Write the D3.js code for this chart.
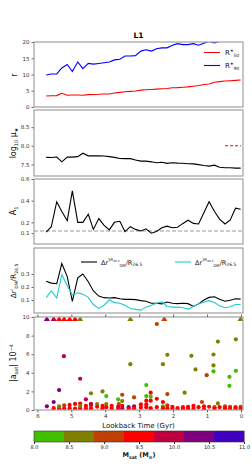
<!doctype html>
<html>
<head>
<script src="https://d3js.org/d3.v7.min.js"></script>
<style>
body{margin:0;background:#fff;}
text{font-family:"DejaVu Sans",sans-serif;}
</style>
</head>
<body>
<svg width="252" height="473" id="chart"></svg>
<script>
// lookback time of each snapshot (Gyr)
var lookback = [5.74,5.59,5.43,5.28,5.12,4.97,4.81,4.66,4.50,4.35,4.19,4.04,3.88,3.73,3.57,3.42,3.26,3.11,2.95,2.80,
                2.64,2.49,2.33,2.18,2.02,1.87,1.71,1.56,1.40,1.25,1.09,0.94,0.78,0.63,0.47,0.32,0.16,0.01];

var r50 = [3.4,3.45,3.5,4.2,3.6,3.7,3.7,3.6,3.8,3.85,3.9,4.0,4.0,4.3,4.5,4.7,4.8,4.9,5.2,5.3,
           5.4,5.5,5.6,5.7,5.9,5.95,6.1,6.2,6.4,6.6,6.9,7.1,7.6,7.8,8.0,8.1,8.2,8.3];
var r90 = [9.85,10.15,10.2,12.0,13.1,10.9,13.85,11.8,13.4,13.2,13.4,13.6,13.85,14.5,14.7,15.7,15.7,15.8,17.2,17.6,
           17.2,17.95,18.2,18.2,19.0,19.5,19.2,19.2,19.5,19.0,19.6,20.2,19.7,20.2,20.8,21.0,21.3,21.5];

var logMu = [7.69,7.685,7.70,7.57,7.70,7.695,7.71,7.80,7.73,7.73,7.73,7.725,7.71,7.69,7.66,7.655,7.655,7.62,7.59,7.59,
             7.57,7.545,7.56,7.53,7.545,7.535,7.53,7.52,7.515,7.495,7.47,7.455,7.48,7.425,7.41,7.41,7.40,7.40];
var hostMuTime = [0.47, 0.0];
var hostMu = [8.0, 8.0];

var a1 = [0.11,0.16,0.39,0.30,0.215,0.49,0.20,0.20,0.275,0.135,0.235,0.175,0.13,0.20,0.21,0.115,0.16,0.135,0.12,0.14,
          0.10,0.115,0.15,0.165,0.15,0.155,0.19,0.22,0.19,0.185,0.29,0.39,0.30,0.23,0.185,0.22,0.33,0.32];
var a1Ref = 0.12;

var dr5 = [0.245,0.23,0.225,0.38,0.28,0.09,0.27,0.30,0.24,0.17,0.13,0.118,0.115,0.118,0.11,0.105,0.105,0.103,0.095,0.09,
           0.075,0.075,0.07,0.085,0.075,0.072,0.075,0.072,0.05,0.07,0.10,0.12,0.125,0.105,0.09,0.098,0.11,0.107];
var dr3 = [0.118,0.17,0.115,0.295,0.21,0.14,0.155,0.145,0.12,0.065,0.035,0.06,0.10,0.08,0.075,0.06,0.035,0.028,0.022,0.045,
           0.06,0.075,0.085,0.05,0.045,0.045,0.04,0.03,0.05,0.07,0.085,0.095,0.08,0.055,0.04,0.048,0.065,0.065];

// satellites: lookback time, |a_sat| (1e-4), log stellar mass
var satTime = [5.22,3.26,2.30,2.17,1.46,1.34,0.81,0.81,0.68,0.15,2.48,0.81,1.01,0.34,0.15,0.34,4.74,5.36,5.52,5.72,
               4.57,4.42,4.08,3.97,3.62,3.50,3.50,3.15,2.79,2.79,2.66,2.66,2.48,2.30,2.17,1.66,1.15,0.68,2.30,4.24,
               3.97,3.60,5.52,5.36,5.36,5.21,5.21,5.05,5.05,4.89,4.89,4.74,4.74,4.74,4.57,4.57,4.42,4.42,4.42,4.24,
               4.08,4.08,3.97,3.81,3.81,3.62,3.62,3.50,3.50,3.31,3.31,3.15,3.15,2.95,2.95,2.79,2.79,2.79,2.66,2.66,
               2.48,2.30,2.17,2.17,2.02,2.02,1.87,1.71,1.71,1.56,1.56,1.40,1.40,1.25,1.09,1.09,0.94,0.78,0.78,0.63,
               0.47,0.47,0.32,0.32,0.16,0.16,0.01,0.01];
var satAcc = [5.79,4.93,4.93,5.93,5.82,4.36,5.97,4.79,7.36,7.60,9.25,4.15,3.75,3.57,4.21,2.60,3.36,2.14,0.86,0.40,
              1.15,1.79,2.00,1.50,1.15,0.96,1.64,1.36,2.68,1.50,1.86,1.43,1.21,0.86,1.71,1.86,0.86,0.71,0.40,0.64,
              0.64,0.64,0.20,0.20,0.40,0.50,0.15,0.55,0.20,0.65,0.15,0.70,0.20,0.45,0.45,0.15,0.55,0.20,0.65,0.35,
              0.45,0.20,0.30,0.20,0.45,0.35,0.15,0.45,0.20,0.30,0.15,0.40,0.20,0.60,0.25,1.00,0.60,0.30,1.00,0.20,
              0.30,0.20,0.50,0.20,0.35,0.15,0.20,0.30,0.10,0.35,0.15,0.45,0.15,0.30,0.40,0.10,0.35,0.30,0.15,0.30,
              0.40,0.20,0.35,0.15,0.30,0.10,0.35,0.15];
var satMass = [9.9,8.6,8.6,8.6,8.6,8.6,8.6,8.6,8.6,8.6,9.1,8.2,9.1,8.2,8.2,8.2,9.9,10.3,10.3,10.3,
               9.9,8.6,8.6,8.2,8.2,8.6,9.1,9.1,8.2,8.2,9.5,8.2,9.5,9.5,9.1,8.6,9.1,8.6,8.2,8.6,
               8.6,9.1,9.5,9.5,8.6,9.1,9.5,9.5,9.5,9.5,9.5,9.5,9.5,8.6,9.5,9.5,9.5,9.5,9.9,9.5,
               9.5,9.5,9.5,9.5,9.5,9.9,9.5,9.5,9.9,10.3,9.5,10.3,9.5,9.5,9.5,9.5,9.5,9.5,9.5,9.5,
               9.5,9.5,9.1,9.5,9.5,9.5,9.5,9.5,9.5,9.5,9.5,9.5,9.5,9.5,9.5,9.5,9.5,9.1,9.5,9.5,
               9.1,9.5,9.1,9.5,9.5,9.5,9.1,9.5];
// satellites above the plotted range (drawn as triangles at the top)
var capTime = [5.72,5.52,5.36,5.21,5.05,4.89,4.74,3.26,2.26,0.01];
var capMass = [10.3,9.9,9.5,9.5,9.5,9.5,8.6,8.6,9.1,8.6];

var massColors = ["#40bf00","#808000","#bf4000","#ff0000","#bf0040","#800080","#4000bf"];
var massTicks = [8.0,8.5,9.0,9.5,10.0,10.5,11.0];
var timeTicks = [6,5,4,3,2,1,0];

var svg = d3.select("#chart");
var left = 34, right = 243;
var x = d3.scaleLinear().domain([6.1, -0.06]).range([left, right]);
var color = d3.scaleQuantize().domain([8, 11]).range(massColors);

svg.append("rect").attr("width", 252).attr("height", 473).attr("fill", "#fff");

// one panel per quantity
function panel(id, top, bottom, domain, ticks, fmt) {
  var y = d3.scaleLinear().domain(domain).range([bottom, top]);
  svg.append("clipPath").attr("id", id)
    .append("rect").attr("x", left).attr("y", top).attr("width", right - left).attr("height", bottom - top);
  var g = svg.append("g");
  var ax = g.append("g").attr("transform", "translate(" + left + ",0)")
    .call(d3.axisLeft(y).tickValues(ticks).tickFormat(fmt).tickSize(2.5).tickPadding(2));
  ax.select(".domain").remove();
  ax.selectAll("line").attr("stroke", "#666");
  ax.selectAll("text").attr("fill", "#333").style("font-size", "5.5px").style("font-family", "DejaVu Sans");
  var plot = g.append("g").attr("clip-path", "url(#" + id + ")");
  g.append("rect").attr("x", left).attr("y", top).attr("width", right - left).attr("height", bottom - top)
    .attr("fill", "none").attr("stroke", "#a0a0a0").attr("stroke-width", 1.2);
  return {g: g, plot: plot, y: y};
}

function drawLine(p, xs, ys, col, dash) {
  var line = d3.line().x(function(d, i) { return x(xs[i]); }).y(function(d) { return p.y(d); });
  p.plot.append("path").datum(ys).attr("d", line)
    .attr("fill", "none").attr("stroke", col).attr("stroke-width", 1.1)
    .attr("stroke-dasharray", dash || null);
}

// rich label: parts = [text, dy, size]
function richText(parent, xx, yy, parts, opts) {
  opts = opts || {};
  var t = parent.append("text").attr("x", xx).attr("y", yy)
    .attr("text-anchor", opts.anchor || "start").attr("fill", "#111");
  if (opts.rotate) t.attr("transform", "rotate(-90," + xx + "," + yy + ")");
  if (opts.bold) t.attr("font-weight", "bold");
  parts.forEach(function(pt) {
    t.append("tspan").attr("dy", pt[1]).style("font-size", pt[2] + "px").text(pt[0]);
  });
  return t;
}

// title
svg.append("text").attr("x", 138.5).attr("y", 38).attr("text-anchor", "middle")
  .attr("font-weight", "bold").style("font-size", "7.5px").text("L1");

// panel 1: radii
var p1 = panel("c1", 42, 107, [0, 20], [0, 5, 10, 15, 20], d3.format("d"));
drawLine(p1, lookback, r50, "#ff0000");
drawLine(p1, lookback, r90, "#0000ff");
p1.g.append("line").attr("x1", 204).attr("x2", 220).attr("y1", 52.5).attr("y2", 52.5).attr("stroke", "#ff0000").attr("stroke-width", 1.1);
p1.g.append("line").attr("x1", 204).attr("x2", 220).attr("y1", 65.5).attr("y2", 65.5).attr("stroke", "#0000ff").attr("stroke-width", 1.1);
richText(p1.g, 225, 55, [["R", 0, 7], ["\u2605", -3.5, 4], ["50", 5.5, 4.5]]);
richText(p1.g, 225, 68, [["R", 0, 7], ["\u2605", -3.5, 4], ["90", 5.5, 4.5]]);
richText(svg, 17, 75, [["r", 0, 8]], {anchor: "middle", rotate: true});

// panel 2: surface density
var p2 = panel("c2", 110, 176, [7.19, 8.96], [7.5, 8.0, 8.5], d3.format(".1f"));
drawLine(p2, lookback, logMu, "#000");
drawLine(p2, hostMuTime, hostMu, "#ff0000", "3,2");
richText(svg, 16, 143, [["log", 0, 8], ["10", 2, 5], [" \u03bc", -2, 8], ["\u2605", 2, 5]], {anchor: "middle", rotate: true});

// panel 3: lopsidedness
var p3 = panel("c3", 179, 244, [0, 0.6], [0.1, 0.2, 0.4, 0.6], d3.format(".1f"));
p3.plot.append("line").attr("x1", left).attr("x2", right).attr("y1", p3.y(a1Ref)).attr("y2", p3.y(a1Ref))
  .attr("stroke", "#999").attr("stroke-width", 1.1).attr("stroke-dasharray", "4,2");
drawLine(p3, lookback, a1, "#000");
richText(svg, 16, 211, [["A", 0, 8], ["1", 2, 5]], {anchor: "middle", rotate: true});

// panel 4: halo offsets
var p4 = panel("c4", 248, 313, [0, 0.5], [0.1, 0.2, 0.3], d3.format(".1f"));
drawLine(p4, lookback, dr5, "#000");
drawLine(p4, lookback, dr3, "#1ccccc");
p4.g.append("line").attr("x1", 81).attr("x2", 97).attr("y1", 262).attr("y2", 262).attr("stroke", "#000").attr("stroke-width", 1.1);
p4.g.append("line").attr("x1", 175).attr("x2", 191).attr("y1", 262).attr("y2", 262).attr("stroke", "#1ccccc").attr("stroke-width", 1.1);
richText(p4.g, 101, 264.5, [["\u0394r", 0, 6.5], ["5R", -3.5, 3.8], ["26.5", 1, 2.8], ["DM", 4.5, 3.8], ["/R", -2, 6.5], ["26.5", 1.8, 4.5]]);
richText(p4.g, 195, 264.5, [["\u0394r", 0, 6.5], ["3R", -3.5, 3.8], ["26.5", 1, 2.8], ["DM", 4.5, 3.8], ["/R", -2, 6.5], ["26.5", 1.8, 4.5]]);
richText(svg, 16, 281, [["\u0394r", 0, 7.5], ["i", -3, 4.5], ["DM", 5, 4.5], ["/R", -2, 7.5], ["26.5", 2, 4.5]], {anchor: "middle", rotate: true});

// panel 5: satellite tidal accelerations
var p5 = panel("c5", 317, 410, [0, 10], [0, 2, 4, 6, 8, 10], d3.format("d"));
var xb = p5.g.append("g").attr("transform", "translate(0,410)")
  .call(d3.axisBottom(x).tickValues(timeTicks).tickFormat(d3.format("d")).tickSize(2.5).tickPadding(1.5));
xb.select(".domain").remove();
xb.selectAll("line").attr("stroke", "#666");
xb.selectAll("text").attr("fill", "#333").style("font-size", "5.5px").style("font-family", "DejaVu Sans");
var xt = p5.g.append("g").attr("transform", "translate(0,317)")
  .call(d3.axisTop(x).tickValues(timeTicks).tickFormat("").tickSize(2.5));
xt.select(".domain").remove();
xt.selectAll("line").attr("stroke", "#666");

p5.plot.selectAll("circle").data(satTime).enter().append("circle")
  .attr("cx", function(d) { return x(d); })
  .attr("cy", function(d, i) { return p5.y(satAcc[i]); })
  .attr("r", 2.1)
  .attr("fill", function(d, i) { return color(satMass[i]); });
p5.plot.selectAll("path.cap").data(capTime).enter().append("path").attr("class", "cap")
  .attr("d", d3.symbol().type(d3.symbolTriangle).size(16))
  .attr("transform", function(d) { return "translate(" + x(d) + "," + p5.y(9.75) + ")"; })
  .attr("fill", function(d, i) { return color(capMass[i]); });
richText(svg, 16, 363, [["|a", 0, 8], ["sat", 2, 5], ["| 10", -2, 8], ["\u22124", -3, 5]], {anchor: "middle", rotate: true});

svg.append("text").attr("x", 138.5).attr("y", 428).attr("text-anchor", "middle")
  .style("font-size", "7px").attr("fill", "#111").text("Lookback Time (Gyr)");

// colorbar
var cb = d3.scaleLinear().domain([8, 11]).range([left, 244]);
var binW = (cb(11) - cb(8)) / massColors.length;
svg.append("g").selectAll("rect").data(massColors).enter().append("rect")
  .attr("x", function(d, i) { return cb(8) + i * binW; })
  .attr("y", 431).attr("width", binW + 0.3).attr("height", 11)
  .attr("fill", function(d) { return d; });
svg.append("rect").attr("x", cb(8)).attr("y", 431).attr("width", cb(11) - cb(8)).attr("height", 11)
  .attr("fill", "none").attr("stroke", "#333").attr("stroke-width", 0.6);
var cax = svg.append("g").attr("transform", "translate(0,442)")
  .call(d3.axisBottom(cb).tickValues(massTicks).tickFormat(d3.format(".1f")).tickSize(2).tickPadding(1));
cax.select(".domain").remove();
cax.selectAll("line").attr("stroke", "#333");
cax.selectAll("text").attr("fill", "#222").style("font-size", "5px").style("font-family", "DejaVu Sans");
richText(svg, 139, 457, [["M", 0, 6.5], ["sat", 1.5, 4.5], [" (M", -1.5, 6.5], ["\u2299", 1.5, 4.5], [")", -1.5, 6.5]], {anchor: "middle", bold: true});
</script>
</body>
</html>
